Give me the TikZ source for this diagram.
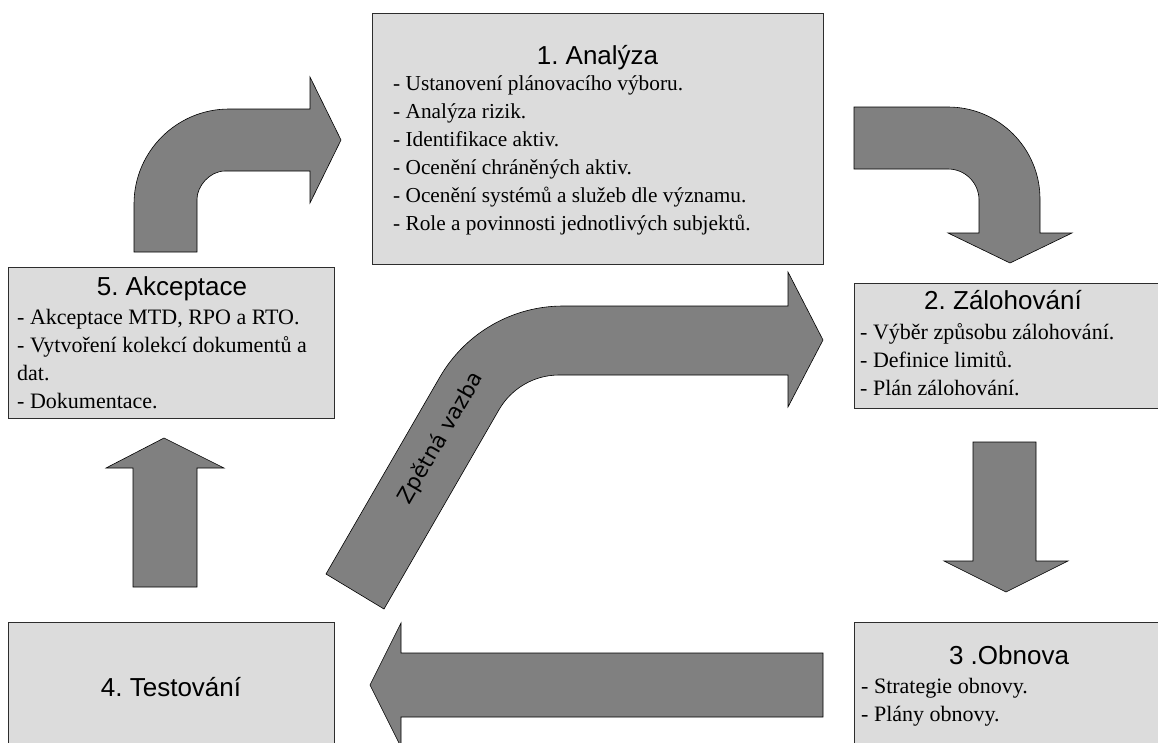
\documentclass[tikz,border=0pt]{standalone}
\usepackage{fontspec}
\setmainfont{Liberation Serif}
\newfontfamily\headfont{Liberation Sans}
\newfontfamily\tagfont{DejaVu Sans}
\definecolor{boxfill}{RGB}{220,220,220}
\definecolor{boxline}{RGB}{45,45,45}
\definecolor{arrowfill}{RGB}{128,128,128}
\frenchspacing
\begin{document}
\begin{tikzpicture}[x=1pt,y=-1pt,
  stagebox/.style={draw=boxline, fill=boxfill, line width=0.8pt, inner sep=0pt},
  stagetitle/.style={anchor=base, inner sep=0pt, font=\headfont\fontsize{26}{30}\selectfont},
  stageline/.style={anchor=base west, inner sep=0pt, font=\fontsize{22}{26}\selectfont},
  blockarrow/.style={draw=black, fill=arrowfill, line width=0.6pt, line join=miter}]
\useasboundingbox (0,0) rectangle (1158,742);
\clip (0,0) rectangle (1158,742);

% ---- stage boxes ----
\node[stagebox, minimum width=451pt, minimum height=251pt] (analyza) at (597.5,138.5) {};
\node[stagebox, minimum width=306pt, minimum height=125pt] (zalohovani) at (1007,345.5) {};
\node[stagebox, minimum width=306pt, minimum height=140pt] (obnova) at (1007,692) {};
\node[stagebox, minimum width=326pt, minimum height=140pt] (testovani) at (171,692) {};
\node[stagebox, minimum width=326pt, minimum height=151pt] (akceptace) at (171,342.5) {};

% ---- 1. Analyza ----
\node[stagetitle] (analyza-t) at (597.5,64) {1. Analýza};
\foreach \t [count=\i] in {{- Ustanovení plánovacího výboru.},{- Analýza rizik.},
  {- Identifikace aktiv.},{- Ocenění chráněných aktiv.},
  {- Ocenění systémů a služeb dle významu.},{- Role a povinnosti jednotlivých subjektů.}}
  \node[stageline, font=\fontsize{21.3}{26}\selectfont] (analyza-\i) at (393,{90+28*(\i-1)}) {\t};

% ---- 2. Zalohovani ----
\node[stagetitle] (zalohovani-t) at (1003,309) {2. Zálohování};
\foreach \t [count=\i] in {{- Výběr způsobu zálohování.},{- Definice limitů.},{- Plán zálohování.}}
  \node[stageline] (zalohovani-\i) at (860,{339+28*(\i-1)}) {\t};

% ---- 3. Obnova ----
\node[stagetitle] (obnova-t) at (1009,664) {3 .Obnova};
\foreach \t [count=\i] in {{- Strategie obnovy.},{- Plány obnovy.}}
  \node[stageline] (obnova-\i) at (861,{693+28*(\i-1)}) {\t};

% ---- 4. Testovani ----
\node[stagetitle] (testovani-t) at (171,696) {4. Testování};

% ---- 5. Akceptace ----
\node[stagetitle] (akceptace-t) at (172,295) {5. Akceptace};
\foreach \t [count=\i] in {{- Akceptace MTD, RPO a RTO.},{- Vytvoření kolekcí dokumentů a},
  {dat.},{- Dokumentace.}}
  \node[stageline] (akceptace-\i) at (17,{324+28*(\i-1)}) {\t};

% ---- block arrows ----
% 5 -> 1 : up and bend right
\draw[blockarrow] (134,252) -- (134,204)
  .. controls (134,151.6) and (176.6,109) .. (229,109)
  -- (310,109) -- (310,77) -- (341,140) -- (310,203) -- (310,171)
  -- (225,171) .. controls (209.5,171) and (197,186.5) .. (197,199)
  -- (197,252) -- cycle;

% 1 -> 2 : right and bend down
\draw[blockarrow] (854,107) -- (948,107)
  .. controls (998.8,107) and (1040,148.2) .. (1040,199)
  -- (1040,233) -- (1072,233) -- (1010,263) -- (948,233) -- (979,233)
  -- (979,200) .. controls (979,182.9) and (965.1,169) .. (948,169)
  -- (854,169) -- cycle;

% 2 -> 3 : down
\draw[blockarrow] (973,442) -- (1036,442) -- (1036,561) -- (1068,561)
  -- (1006,592) -- (944,561) -- (973,561) -- cycle;

% 3 -> 4 : left
\draw[blockarrow] (823,653) -- (401,653) -- (401,623) -- (370,685)
  -- (401,747) -- (401,717) -- (823,717) -- cycle;

% 4 -> 5 : up
\draw[blockarrow] (133,587) -- (133,468) -- (106,468) -- (164,438)
  -- (224,468) -- (197,468) -- (197,587) -- cycle;

% feedback 4 -> 2
\draw[blockarrow] (326,574) -- (439.9,377)
  .. controls (465.3,333.1) and (512.2,306) .. (563,306)
  -- (788,306) -- (788,272) -- (823,340) -- (788,407) -- (788,375)
  -- (559,375) .. controls (534.2,375) and (511.4,388.3) .. (499,409.7)
  -- (384,609) -- cycle;
\node[rotate=60, inner sep=0pt, font=\tagfont\fontsize{21.5}{26}\selectfont] (zpetna) at (441,438) {Zpětná vazba};
\end{tikzpicture}
\end{document}
